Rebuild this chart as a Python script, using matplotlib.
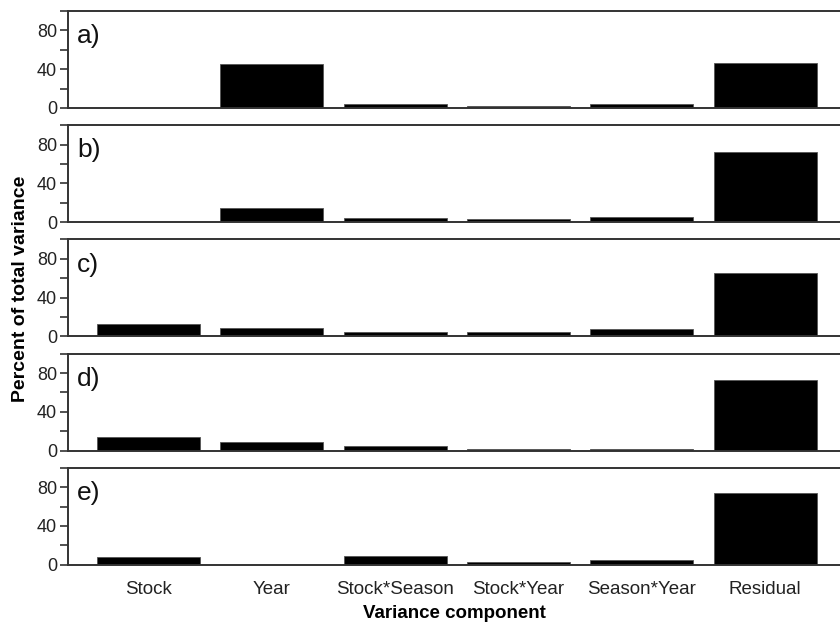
import matplotlib
matplotlib.use("Agg")
import matplotlib.pyplot as plt
from matplotlib.ticker import FixedLocator

plt.rcParams['font.family'] = ['Liberation Sans', 'DejaVu Sans']

components = ["Stock", "Year", "Stock*Season", "Stock*Year", "Season*Year", "Residual"]
panel_labels = ["a)", "b)", "c)", "d)", "e)"]

pct_a = [0.5, 45.5, 4.5, 2.5, 3.8, 46.7]
pct_b = [0.0, 15.0, 4.4, 3.4, 5.5, 72.5]
pct_c = [12.7, 9.0, 5.0, 5.0, 7.5, 65.5]
pct_d = [14.0, 8.6, 4.5, 1.5, 1.5, 72.9]
pct_e = [7.6, 0.0, 9.3, 3.0, 4.8, 74.0]
panels = [pct_a, pct_b, pct_c, pct_d, pct_e]

W, H = 840, 622
fig = plt.figure(figsize=(W / 100, H / 100), dpi=100)

left_px, right_px = 68, 840
panel_h = 97
step = 114.2
top0 = 11
x = list(range(len(components)))
spine_col = "#333333"

for i, (vals, lab) in enumerate(zip(panels, panel_labels)):
    top = top0 + i * step
    ax = fig.add_axes([left_px / W, 1 - (top + panel_h) / H,
                       (right_px - left_px) / W, panel_h / H])
    ax.bar(x, vals, width=0.835, color="black", edgecolor="#555555", linewidth=0.6)
    ax.set_ylim(0, 100)
    ax.set_xlim(-0.653, 5.608)
    ax.yaxis.set_major_locator(FixedLocator([0, 40, 80]))
    ax.yaxis.set_minor_locator(FixedLocator([20, 60, 100]))
    ax.tick_params(axis='y', which='both', length=6, width=1.2, color=spine_col,
                   labelsize=13, pad=2, labelcolor="#222222")
    ax.spines['right'].set_visible(False)
    for s in ('left', 'top', 'bottom'):
        ax.spines[s].set_color(spine_col)
        ax.spines[s].set_linewidth(1.4)
    ax.text(0.012, 0.74, lab, transform=ax.transAxes, ha='left', va='center',
            fontsize=19, color="#111111")
    ax.set_xticks(x)
    if i < len(panels) - 1:
        ax.set_xticklabels([])
        ax.tick_params(axis='x', length=0)
    else:
        ax.set_xticklabels(components, fontsize=13.5)
        ax.tick_params(axis='x', length=0, pad=12, labelcolor="#222222")
        ax.set_xlabel("Variance component", fontsize=13.5, fontweight='bold',
                      labelpad=5)

fig.text(21 / W, 1 - 289 / H, "Percent of total variance", rotation=90,
         ha='center', va='center', fontsize=14, fontweight='bold')

fig.savefig("out.png", dpi=100)
